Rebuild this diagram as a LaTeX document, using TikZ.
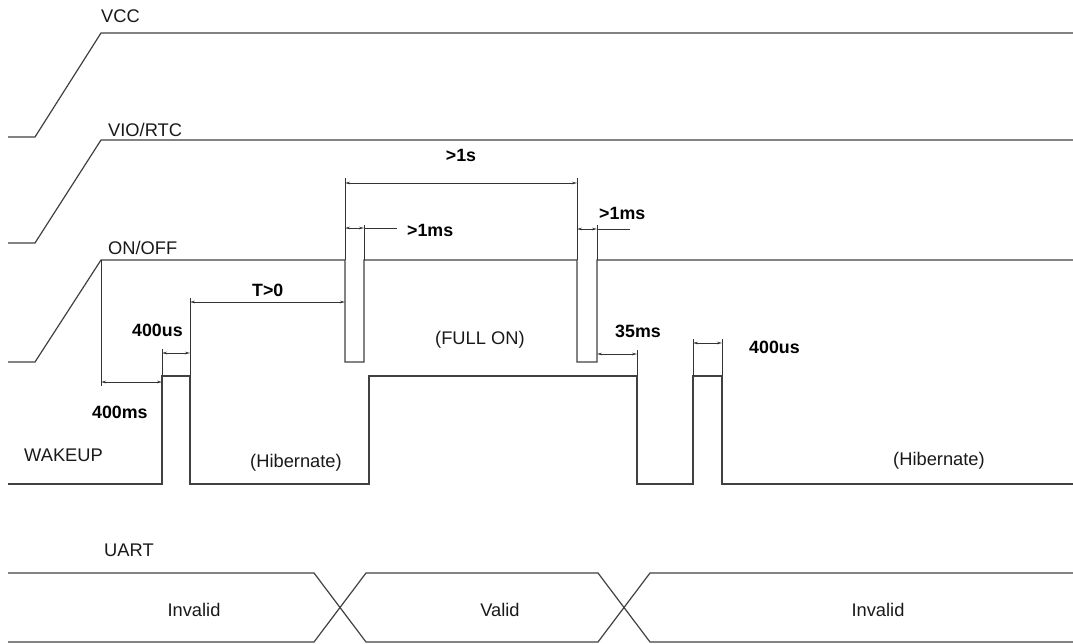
\documentclass[tikz,border=0pt]{standalone}
\usepackage{fontspec}
\setmainfont{Liberation Sans}
\usetikzlibrary{arrows.meta}
\tikzset{
  wave/.style={draw=black!75, line width=1.2pt, line join=miter},
  ext/.style={draw=black!80, line width=0.8pt},
  dim/.style={draw=black!80, line width=0.8pt, {Stealth[length=5pt,width=2.6pt]}-{Stealth[length=5pt,width=2.6pt]}},
  lbl/.style={inner sep=0pt, font=\fontsize{18.3}{20}\selectfont, text=black!90},
  blbl/.style={inner sep=0pt, font=\fontsize{17.8}{20}\selectfont\bfseries, text=black},
}
\begin{document}
\begin{tikzpicture}[x=1pt,y=-1pt]
\useasboundingbox (0,0) rectangle (1073,644);
% VCC
\draw[wave] (8,137) -- (35,137) -- (101,33) -- (1073,33);
\node[lbl, anchor=base west] (vcc) at (101,23) {VCC};
% VIO/RTC
\draw[wave] (8,243) -- (35,243) -- (101,140) -- (1073,140);
\node[lbl, anchor=base west] (vio) at (108,137) {VIO/RTC};
% ON/OFF
\draw[wave] (8,362) -- (35,362) -- (101,260) -- (345,260) -- (345,362) -- (364,362) -- (364,260)
  -- (577,260) -- (577,362) -- (597,362) -- (597,260) -- (1073,260);
\node[lbl, anchor=base west] (onoff) at (108,255) {ON/OFF};
% WAKEUP
\draw[wave] (8,484) -- (162,484) -- (162,376) -- (190,376) -- (190,484) -- (369,484) -- (369,376)
  -- (637,376) -- (637,484) -- (693,484) -- (693,376) -- (722,376) -- (722,484) -- (1073,484);
\node[lbl, anchor=base west] (wake) at (24,461) {WAKEUP};
% extension lines
\draw[ext] (101,260) -- (101,386);
\draw[ext] (162,376) -- (162,349);
\draw[ext] (190,376) -- (190,298);
\draw[ext] (345,260) -- (345,178);
\draw[ext] (577,260) -- (577,178);
\draw[ext] (364,260) -- (364,225);
\draw[ext] (597,260) -- (597,225);
\draw[ext] (637,376) -- (637,350);
\draw[ext] (693,376) -- (693,339);
\draw[ext] (722,376) -- (722,339);
% dimensions
\coordinate (d1a) at (345,183); \coordinate (d1b) at (577,183);
\draw[dim] (d1a) -- (d1b);
\node[blbl, anchor=base] (t1s) at (461,162) {>1s};
\coordinate (d2a) at (345,228); \coordinate (d2b) at (364,228); \coordinate (d2c) at (397,228);
\draw[dim] (d2a) -- (d2b);
\draw[ext] (d2b) -- (d2c);
\node[blbl, anchor=base west] (t1msa) at (407,237) {>1ms};
\coordinate (d3a) at (577,229); \coordinate (d3b) at (597,229); \coordinate (d3c) at (630,229);
\draw[dim] (d3a) -- (d3b);
\draw[ext] (d3b) -- (d3c);
\node[blbl, anchor=base west] (t1msb) at (599,220) {>1ms};
\coordinate (d4a) at (190,302); \coordinate (d4b) at (345,302);
\draw[dim] (d4a) -- (d4b);
\node[blbl, anchor=base west] (tt0) at (252,296) {T>0};
\coordinate (d5a) at (162,353); \coordinate (d5b) at (190,353);
\draw[dim] (d5a) -- (d5b);
\node[blbl, anchor=base west] (t400a) at (132,336) {400us};
\coordinate (d6a) at (101,382); \coordinate (d6b) at (162,382);
\draw[dim] (d6a) -- (d6b);
\node[blbl, anchor=base west] (t400ms) at (92,418) {400ms};
\coordinate (d7a) at (597,354); \coordinate (d7b) at (637,354);
\draw[dim] (d7a) -- (d7b);
\node[blbl, anchor=base west] (t35) at (615,337) {35ms};
\coordinate (d8a) at (693,343); \coordinate (d8b) at (722,343);
\draw[dim] (d8a) -- (d8b);
\node[blbl, anchor=base west] (t400b) at (749,353) {400us};
% state labels
\node[lbl, anchor=base west] (fullon) at (435,344) {(FULL ON)};
\node[lbl] (hib1) at (296,463) {(Hibernate)};
\node[lbl] (hib2) at (939,461) {(Hibernate)};
% UART
\node[lbl, anchor=base west] (uart) at (104,556) {UART};
\draw[wave] (8,573) -- (314,573) -- (366,642) -- (598,642) -- (650,573) -- (1073,573);
\draw[wave] (8,642) -- (314,642) -- (366,573) -- (598,573) -- (650,642) -- (1073,642);
\node[lbl] (inv1) at (194,610) {Invalid};
\node[lbl] (val) at (500,610) {Valid};
\node[lbl] (inv2) at (878,610) {Invalid};
\end{tikzpicture}
\end{document}
